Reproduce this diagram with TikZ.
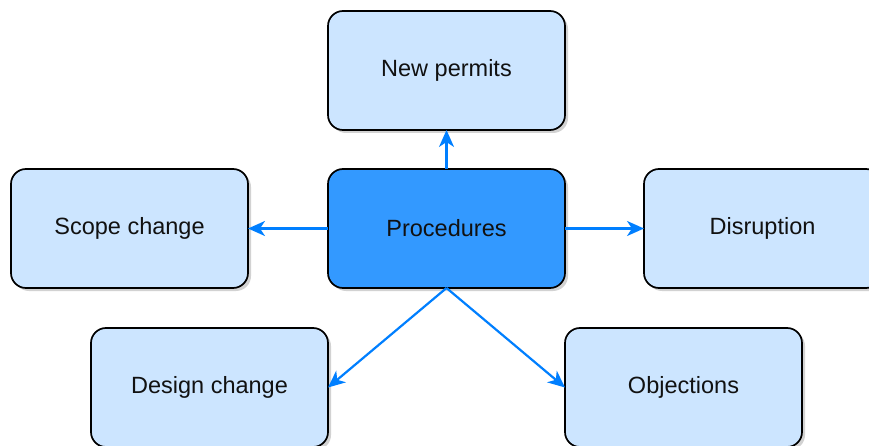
\documentclass[tikz,border=0pt]{standalone}
\usepackage{fontspec}
\setmainfont{Liberation Sans}
\usetikzlibrary{shadows,arrows.meta}
\definecolor{lightbox}{HTML}{CCE5FF}
\definecolor{mainbox}{HTML}{3399FF}
\definecolor{edgeblue}{HTML}{007FFF}
\definecolor{txt}{HTML}{111111}
\tikzset{
  box/.style={draw=black, line width=1.7pt, rounded corners=15pt, fill=lightbox,
    minimum width=237pt, minimum height=119pt, inner sep=0pt, outer sep=0pt,
    text=txt, font=\fontsize{23.5}{28}\selectfont,
    drop shadow={shadow xshift=3pt, shadow yshift=-3pt, opacity=0.25, fill=black!70}},
  mainnode/.style={box, fill=mainbox},
  link/.style={draw=edgeblue, line width=2.2pt, -{Stealth[length=17pt,width=15pt,inset=5pt]}}
}
\begin{document}
\begin{tikzpicture}[x=1pt,y=-1pt]
\useasboundingbox (0,0) rectangle (869,446);
\node[box] (permits) at (446.5,70.5) {New permits};
\node[mainnode] (proc) at (446.5,228.5) {Procedures};
\node[box] (scope) at (129.5,228.5) {Scope change};
\node[box] (disr) at (762.5,228.5) {Disruption};
\node[box] (design) at (209.5,387.5) {Design change};
\node[box] (obj) at (683.5,387.5) {Objections};
\draw[link] (proc.north) -- (permits.south);
\draw[link] (proc.west) -- (scope.east);
\draw[link] (proc.east) -- (disr.west);
\draw[link] (proc.south) -- (design.east);
\draw[link] (proc.south) -- (obj.west);
\end{tikzpicture}
\end{document}
